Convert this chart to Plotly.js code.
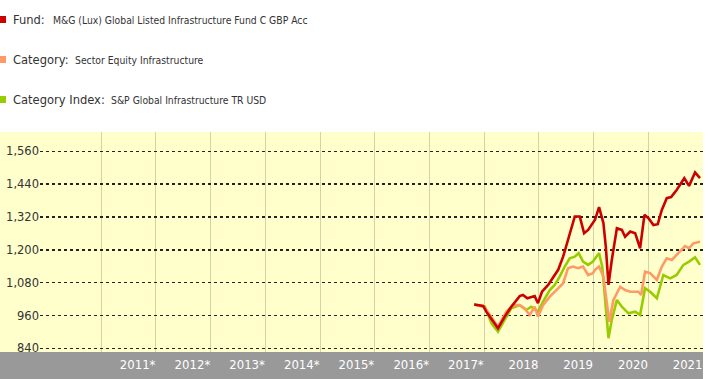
<!DOCTYPE html>
<html>
<head>
<meta charset="utf-8">
<script src="https://cdn.plot.ly/plotly-3.0.1.min.js"></script>
<style>
html,body{margin:0;padding:0;background:#fff;}
#chart{width:708px;height:379px;}
</style>
</head>
<body>
<div id="chart"></div>
<script>
// ---- data ----
var fundDates = ['2017-10-26','2017-12-25','2018-01-15','2018-04-03','2018-05-18','2018-07-01','2018-08-26','2018-09-17','2018-10-16','2018-11-16','2018-12-04','2018-12-26',
  '2019-01-22','2019-03-04','2019-04-06','2019-05-10','2019-06-12','2019-07-15','2019-08-06','2019-08-29','2019-10-01','2019-10-30','2019-11-26','2019-12-28',
  '2020-01-11','2020-02-07','2020-03-07','2020-03-23','2020-04-10','2020-05-02','2020-06-05','2020-07-08','2020-07-30','2020-09-02','2020-10-05','2020-11-07','2020-12-06',
  '2021-01-02','2021-02-04','2021-03-05','2021-04-01','2021-05-04','2021-06-02','2021-07-09','2021-08-29','2021-09-30','2021-10-18','2021-11-09','2021-12-12'];
var fundValues = [1000,995,974,913,956,992,1031,1035,1023,1029,1031,1005,
  1047,1072,1100,1127,1175,1236,1285,1322,1322,1261,1273,1298,
  1310,1356,1298,1212,1072,1163,1279,1273,1248,1267,1261,1206,1328,
  1316,1291,1294,1346,1389,1393,1419,1462,1434,1456,1483,1462];

var categoryDates = ['2017-10-26','2018-01-05','2018-04-03','2018-05-29','2018-07-12','2018-08-26','2018-09-28','2018-11-01','2018-12-04','2018-12-26',
  '2019-01-29','2019-03-15','2019-04-28','2019-06-12','2019-07-15','2019-08-17','2019-09-19','2019-10-23','2019-11-26','2019-12-28',
  '2020-01-11','2020-02-07','2020-03-07','2020-03-30','2020-04-15','2020-05-13','2020-06-27','2020-07-30','2020-09-02','2020-10-27','2020-11-14','2020-12-10',
  '2021-01-13','2021-02-27','2021-04-01','2021-05-04','2021-06-07','2021-07-20','2021-09-03','2021-09-30','2021-10-28','2021-12-12'];
var categoryValues = [1000,990,919,974,998,998,986,962,992,956,
  998,1029,1053,1078,1133,1139,1133,1139,1108,1115,
  1127,1139,1102,992,937,1017,1065,1053,1047,1047,1035,1120,
  1115,1090,1139,1169,1163,1188,1214,1206,1224,1230];

var indexDates = ['2017-10-26','2018-01-05','2018-02-18','2018-04-03','2018-05-18','2018-07-01','2018-08-26','2018-10-09','2018-11-11','2018-12-26',
  '2019-01-29','2019-03-15','2019-04-17','2019-05-20','2019-06-23','2019-07-26','2019-08-29','2019-09-24','2019-10-23','2019-11-26','2019-12-28',
  '2020-01-11','2020-02-07','2020-02-28','2020-03-23','2020-04-10','2020-05-02','2020-06-05','2020-07-08','2020-08-21','2020-10-05','2020-11-07','2020-12-10',
  '2021-01-13','2021-02-27','2021-04-11','2021-05-27','2021-07-09','2021-08-23','2021-09-30','2021-11-09','2021-12-12'];
var indexValues = [1000,992,932,901,944,986,998,980,992,974,
  1011,1053,1072,1102,1139,1169,1175,1188,1157,1145,1157,
  1169,1188,1139,992,877,944,1017,992,968,974,962,1060,
  1047,1023,1108,1096,1108,1145,1157,1173,1145];

var xTickVals = ['2011-01-01','2012-01-01','2013-01-01','2014-01-01','2015-01-01','2016-01-01','2017-01-01','2018-01-01','2019-01-01','2020-01-01','2021-01-01','2022-01-01'];
var xTickText = ['','2011*','2012*','2013*','2014*','2015*','2016*','2017*','2018','2019','2020','2021'];
var yTickVals = [840,960,1080,1200,1320,1440,1560];
var yTickText = ['840','960','1,080','1,200','1,320','1,440','1,560'];

var legendLabels = ['Fund:','Category:','Category Index:'];
var legendNames = ['M&amp;G (Lux) Global Listed Infrastructure Fund C GBP Acc','Sector Equity Infrastructure','S&amp;P Global Infrastructure TR USD'];
var seriesColors = ['#cc0000','#ff9966','#99cc00'];

// ---- chart ----
var NARROW = 'Liberation Sans Narrow, Arial Narrow, DejaVu Sans Condensed, sans-serif';

var traces = [
  {x: indexDates, y: indexValues, type: 'scatter', mode: 'lines', line: {color: seriesColors[2], width: 2.6}, hoverinfo: 'skip'},
  {x: categoryDates, y: categoryValues, type: 'scatter', mode: 'lines', line: {color: seriesColors[1], width: 2.6}, hoverinfo: 'skip'},
  {x: fundDates, y: fundValues, type: 'scatter', mode: 'lines', line: {color: seriesColors[0], width: 2.6}, hoverinfo: 'skip'}
];

var W = 663, H = 220; // plot area in px
function px(x){ return (x - 40) / W; }
function py(y){ return (352 - y) / H; }

var labelX = [11, 11, 11];
var nameX = [51, 73, 109];
var rowY = [19, 59, 99];
var annotations = [];
var shapes = [
  {type: 'rect', xref: 'paper', yref: 'paper', x0: px(0), x1: 0, y0: 0, y1: 1, fillcolor: '#ffffcc', line: {width: 0}, layer: 'below'},
  {type: 'rect', xref: 'paper', yref: 'paper', x0: px(0), x1: 1, y0: py(379), y1: 0, fillcolor: '#999999', line: {width: 0}, layer: 'below'}
];
for (var i = 0; i < 3; i++) {
  annotations.push({xref: 'paper', yref: 'paper', x: px(labelX[i]), y: py(rowY[i]), xanchor: 'left', yanchor: 'middle',
    text: legendLabels[i], showarrow: false, font: {family: NARROW, size: 12.8, color: '#333333'}});
  annotations.push({xref: 'paper', yref: 'paper', x: px(nameX[i]), y: py(rowY[i] + 1), xanchor: 'left', yanchor: 'middle',
    text: legendNames[i], showarrow: false, font: {family: NARROW, size: 10.3, color: '#333333'}});
  shapes.push({type: 'rect', xref: 'paper', yref: 'paper', x0: px(0), x1: px(6), y0: py(rowY[i] + 4), y1: py(rowY[i] - 3),
    fillcolor: seriesColors[i], line: {width: 0}});
}

var layout = {
  width: 708, height: 379,
  margin: {l: 40, r: 5, t: 132, b: 27, pad: 0},
  paper_bgcolor: '#ffffff',
  plot_bgcolor: '#ffffcc',
  showlegend: false,
  xaxis: {
    type: 'date',
    range: ['2009-11-18', '2022-01-01'],
    tickvals: xTickVals, ticktext: xTickText,
    ticklabelposition: 'outside left',
    ticks: 'outside', ticklen: 5, tickcolor: 'rgba(0,0,0,0)',
    tickfont: {family: NARROW, size: 13, color: '#ffffff'},
    showgrid: true, gridcolor: '#d6d2a4', gridwidth: 1,
    zeroline: false, showline: false, fixedrange: true
  },
  yaxis: {
    range: [826.5, 1631],
    tickvals: yTickVals, ticktext: yTickText,
    ticks: '',
    tickfont: {family: 'DejaVu Sans, sans-serif', size: 11.5, color: '#333333'},
    showgrid: true, gridcolor: '#222222', gridwidth: 1.5, griddash: 'dot',
    zeroline: false, showline: false, fixedrange: true
  },
  annotations: annotations,
  shapes: shapes
};

Plotly.newPlot('chart', traces, layout, {staticPlot: true, displayModeBar: false});
</script>
</body>
</html>
